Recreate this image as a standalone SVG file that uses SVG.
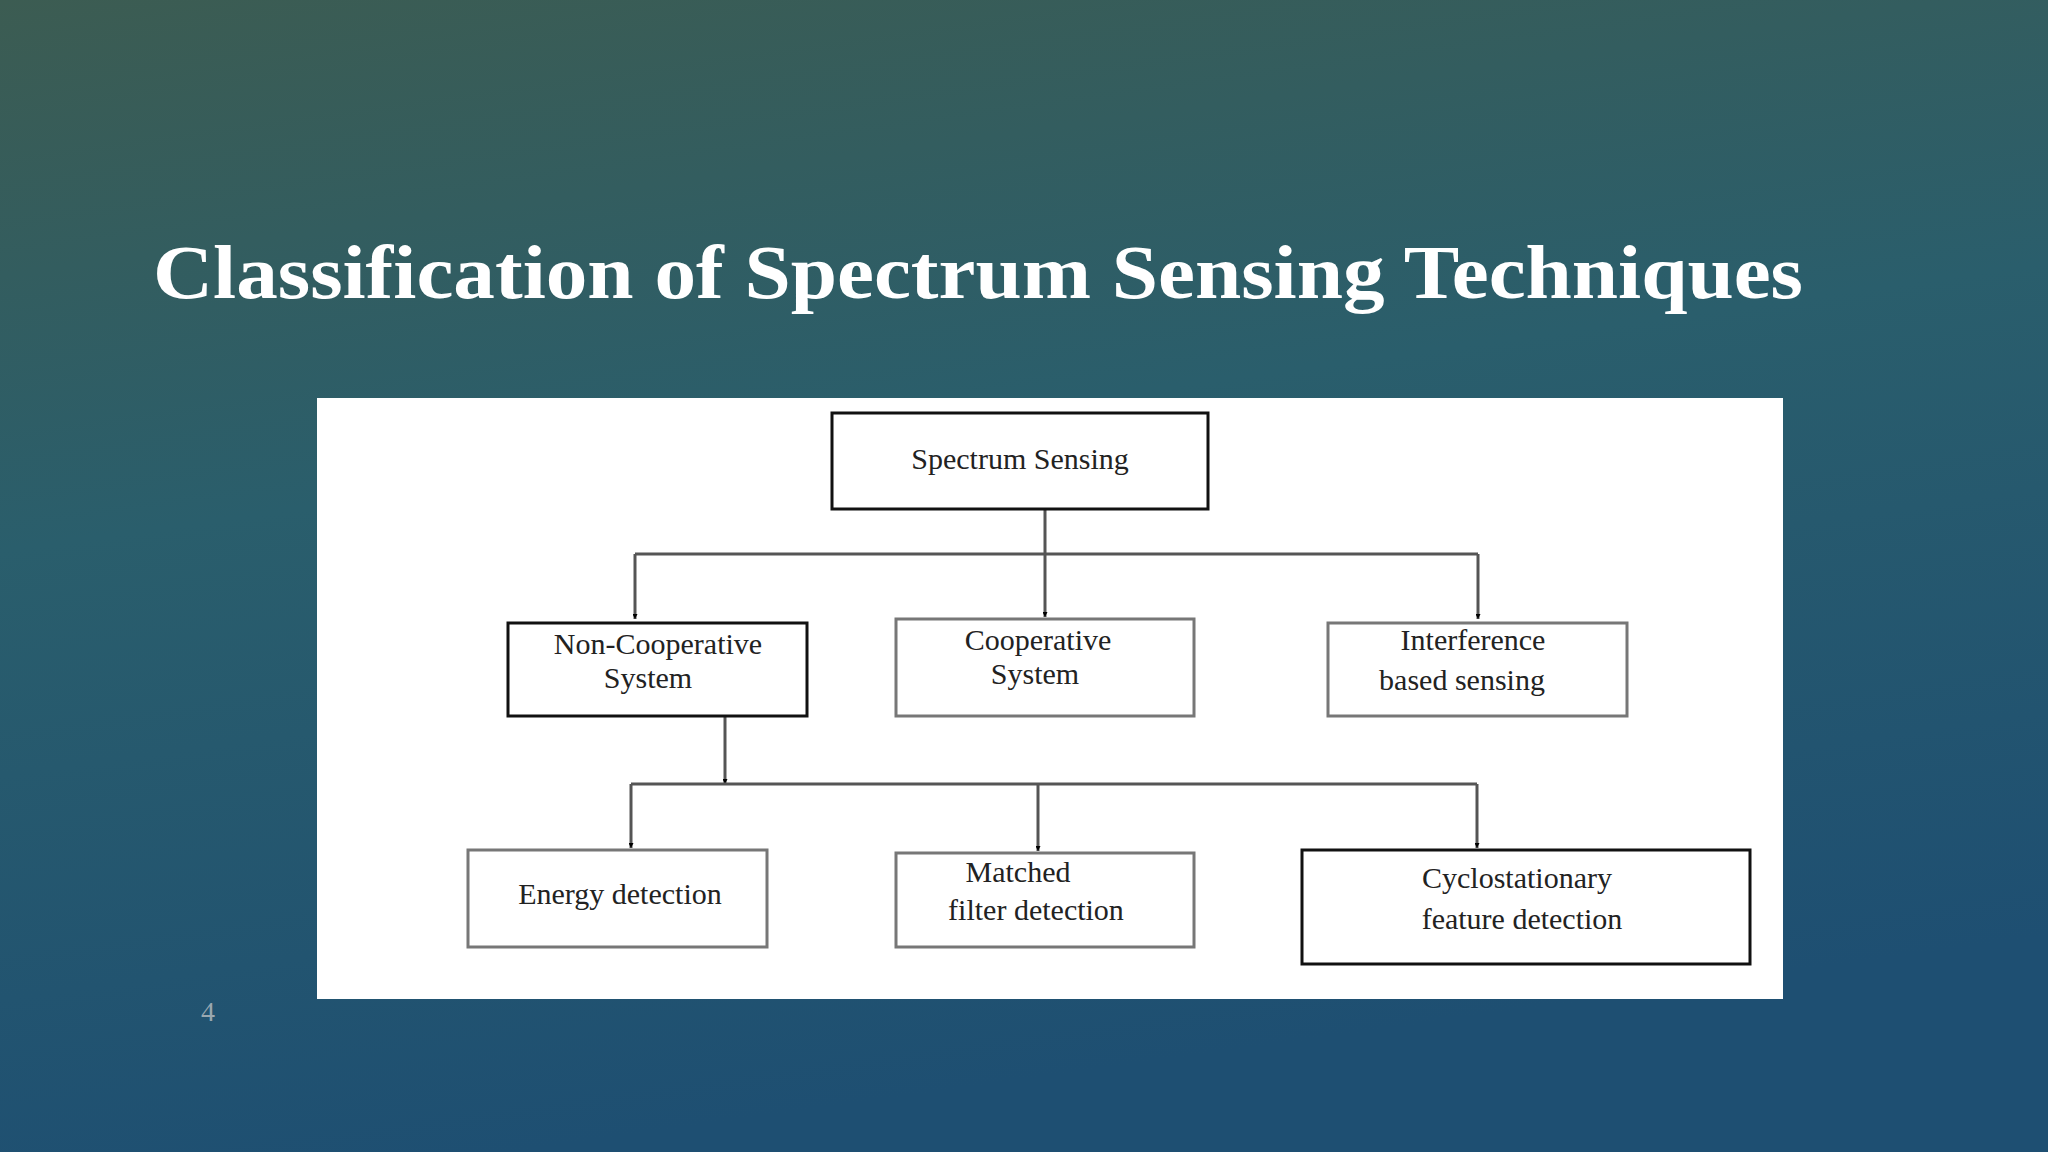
<svg xmlns="http://www.w3.org/2000/svg" width="2048" height="1152" viewBox="0 0 2048 1152">
<defs>
<linearGradient id="bg" x1="0" y1="0" x2="0.25" y2="1">
<stop offset="0" stop-color="#3c5c52"/>
<stop offset="0.45" stop-color="#2a5e6c"/>
<stop offset="1" stop-color="#1e4f72"/>
</linearGradient>
<marker id="ah" viewBox="0 0 10 10" refX="10" refY="5" markerWidth="5" markerHeight="5" orient="auto" markerUnits="userSpaceOnUse">
<path d="M0,0 L10,5 L0,10 z" fill="#000"/>
</marker>
<style>
.box{fill:#fff;stroke:#111;stroke-width:3}
.box2{fill:#fff;stroke:#777;stroke-width:3}
.t{font-family:"Liberation Serif",serif;font-size:30px;fill:#222;text-anchor:middle}
.c{fill:none;stroke:#555;stroke-width:3}
</style>
</defs>
<rect width="2048" height="1152" fill="url(#bg)"/>
<text x="153" y="298" font-family="Liberation Serif,serif" font-weight="bold" font-size="76" fill="#fff" textLength="1650" lengthAdjust="spacingAndGlyphs">Classification of Spectrum Sensing Techniques</text>
<text x="208" y="1021" font-family="Liberation Serif,serif" font-size="28" fill="#9aa8b0" text-anchor="middle">4</text>
<rect x="317" y="398" width="1466" height="601" fill="#fff"/>
<g id="connectors">
<path class="c" d="M1045,509 V554 M635,554 H1478"/>
<path class="c" d="M635,554 V619" marker-end="url(#ah)"/>
<path class="c" d="M1045,554 V617" marker-end="url(#ah)"/>
<path class="c" d="M1478,554 V619" marker-end="url(#ah)"/>
<path class="c" d="M725,716 V784" marker-end="url(#ah)"/>
<path class="c" d="M631,784 H1477"/>
<path class="c" d="M631,784 V848" marker-end="url(#ah)"/>
<path class="c" d="M1038,784 V851" marker-end="url(#ah)"/>
<path class="c" d="M1477,784 V848" marker-end="url(#ah)"/>
</g>
<g id="n-root"><rect class="box" x="832" y="413" width="376" height="96"/><text class="t" x="1020" y="469">Spectrum Sensing</text></g>
<g id="n-noncoop"><rect class="box" x="508" y="623" width="299" height="93"/><text class="t" x="658" y="654">Non-Cooperative</text><text class="t" x="648" y="688">System</text></g>
<g id="n-coop"><rect class="box2" x="896" y="619" width="298" height="97"/><text class="t" x="1038" y="650">Cooperative</text><text class="t" x="1035" y="684">System</text></g>
<g id="n-interf"><rect class="box2" x="1328" y="623" width="299" height="93"/><text class="t" x="1473" y="650">Interference</text><text class="t" x="1462" y="690">based sensing</text></g>
<g id="n-energy"><rect class="box2" x="468" y="850" width="299" height="97"/><text class="t" x="620" y="904">Energy detection</text></g>
<g id="n-matched"><rect class="box2" x="896" y="853" width="298" height="94"/><text class="t" x="1018" y="882">Matched</text><text class="t" x="1036" y="920">filter  detection</text></g>
<g id="n-cyclo"><rect class="box" x="1302" y="850" width="448" height="114"/><text class="t" x="1517" y="888">Cyclostationary</text><text class="t" x="1522" y="929">feature detection</text></g>
</svg>
